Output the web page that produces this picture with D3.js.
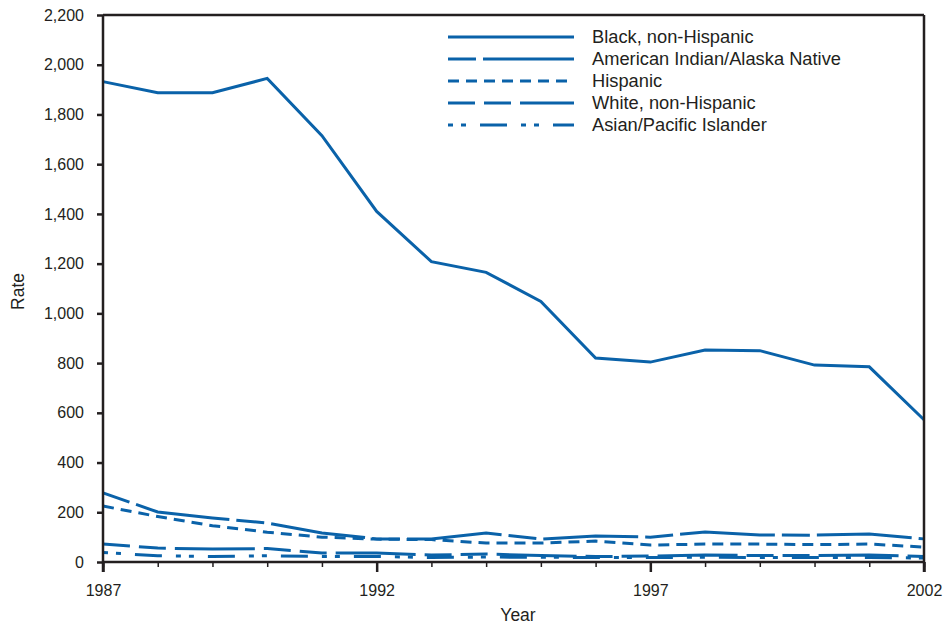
<!DOCTYPE html>
<html>
<head>
<meta charset="utf-8">
<script src="https://cdn.jsdelivr.net/npm/d3@7"></script>
<style>
  body { margin: 0; background: #fff; }
  text { font-family: "Liberation Sans", Arial, Helvetica, sans-serif; fill: #231f20; }
</style>
</head>
<body>
<div id="chart"></div>
<script>
"use strict";

//Years on the x axis
var years = [1987, 1988, 1989, 1990, 1991, 1992, 1993, 1994, 1995, 1996, 1997, 1998, 1999, 2000, 2001, 2002];

//Rates per series
var blackRates    = [1932, 1887, 1887, 1945, 1715, 1410, 1208, 1165, 1048, 820, 804, 853, 850, 792, 785, 572];
var aianRates     = [278, 201, 177, 157, 117, 93, 93, 117, 92, 105, 100, 121, 109, 108, 113, 93];
var hispanicRates = [225, 183, 146, 120, 100, 92, 90, 76, 76, 84, 68, 72, 72, 70, 72, 60];
var whiteRates    = [72, 56, 52, 54, 36, 36, 28, 32, 26, 22, 24, 28, 26, 26, 28, 22];
var asianRates    = [38, 25, 22, 25, 22, 22, 18, 20, 19, 18, 18, 19, 18, 18, 18, 16];

var seriesNames = ["Black, non-Hispanic", "American Indian/Alaska Native", "Hispanic",
                   "White, non-Hispanic", "Asian/Pacific Islander"];
var seriesValues = [blackRates, aianRates, hispanicRates, whiteRates, asianRates];

//Y ticks
var yTicks = [0, 200, 400, 600, 800, 1000, 1200, 1400, 1600, 1800, 2000, 2200];
var xLabels = [1987, 1992, 1997, 2002];

//Visualization parameters
var svgWidth = 945;
var svgHeight = 625;
var margin = {top: 15, right: 21, bottom: 63, left: 103};
var lineColor = "#0a62a9";
var axisColor = "#231f20";
var dashes = [null, "28,7,95,7", "11,7", "27,9,27,9,80,9", "5,8,5,14,27,14"];

var w = svgWidth - margin.left - margin.right;
var h = svgHeight - margin.top - margin.bottom;

var svg = d3.select("#chart")
            .append("svg")
            .attr("width", svgWidth)
            .attr("height", svgHeight);

var g = svg.append("g").attr("transform", "translate(" + margin.left + "," + margin.top + ")");

var x = d3.scaleLinear().domain([1987, 2002]).range([0, w]);
var y = d3.scaleLinear().domain([0, 2200]).range([h, 0]);

//Series lines
var line = d3.line()
    .x(function(d, i){ return x(years[i]); })
    .y(function(d){ return y(d); });

seriesValues.forEach(function(vals, k){
    g.append("path")
        .datum(vals)
        .attr("d", line)
        .attr("fill", "none")
        .attr("stroke", lineColor)
        .attr("stroke-width", 3)
        .attr("stroke-dasharray", dashes[k]);
});

//Frame: top and right edges
g.append("line").attr("x1", 0).attr("x2", w).attr("y1", 0).attr("y2", 0)
    .attr("stroke", axisColor).attr("stroke-width", 2.5);
g.append("line").attr("x1", w).attr("x2", w).attr("y1", 0).attr("y2", h + 10)
    .attr("stroke", axisColor).attr("stroke-width", 2.5);

//Y axis
var yAxis = g.append("g")
    .call(d3.axisLeft(y).tickValues(yTicks).tickSize(6).tickPadding(13).tickFormat(d3.format(",")));
yAxis.select(".domain").remove();
yAxis.selectAll(".tick line").attr("stroke", axisColor).attr("stroke-width", 2.5);
yAxis.selectAll(".tick text").style("font-size", "16px");
g.append("line").attr("x1", 0).attr("x2", 0).attr("y1", 0).attr("y2", h + 10)
    .attr("stroke", axisColor).attr("stroke-width", 2.5);

//X axis: minor ticks every year, bigger ticks with labels every 5 years
var xAxis = g.append("g")
    .attr("transform", "translate(0," + h + ")")
    .call(d3.axisBottom(x).tickValues(years).tickSize(5).tickFormat(""));
xAxis.select(".domain").remove();
xAxis.selectAll(".tick line").attr("stroke", axisColor).attr("stroke-width", 1.5);

var xMajor = g.append("g")
    .attr("transform", "translate(0," + h + ")")
    .call(d3.axisBottom(x).tickValues(xLabels).tickSize(10).tickPadding(13).tickFormat(d3.format("d")));
xMajor.select(".domain").remove();
xMajor.selectAll(".tick line").attr("stroke", axisColor).attr("stroke-width", 2.5);
xMajor.selectAll(".tick text").style("font-size", "16px");

g.append("line").attr("x1", 0).attr("x2", w).attr("y1", h).attr("y2", h)
    .attr("stroke", axisColor).attr("stroke-width", 2.5);

//Axis titles
svg.append("text")
    .attr("transform", "translate(24," + (margin.top + h / 2 + 3) + ") rotate(-90)")
    .attr("text-anchor", "middle")
    .style("font-size", "17.5px")
    .text("Rate");

svg.append("text")
    .attr("x", 518)
    .attr("y", 621)
    .attr("text-anchor", "middle")
    .style("font-size", "17.5px")
    .text("Year");

//Legend
var legend = svg.append("g").attr("transform", "translate(448,37)");
seriesNames.forEach(function(name, k){
    var row = legend.append("g").attr("transform", "translate(0," + (k * 22) + ")");
    row.append("line")
        .attr("x1", 0).attr("x2", 126)
        .attr("stroke", lineColor)
        .attr("stroke-width", 3)
        .attr("stroke-dasharray", dashes[k]);
    row.append("text")
        .attr("x", 144)
        .attr("dy", "0.35em")
        .style("font-size", "18.3px")
        .text(name);
});
</script>
</body>
</html>
